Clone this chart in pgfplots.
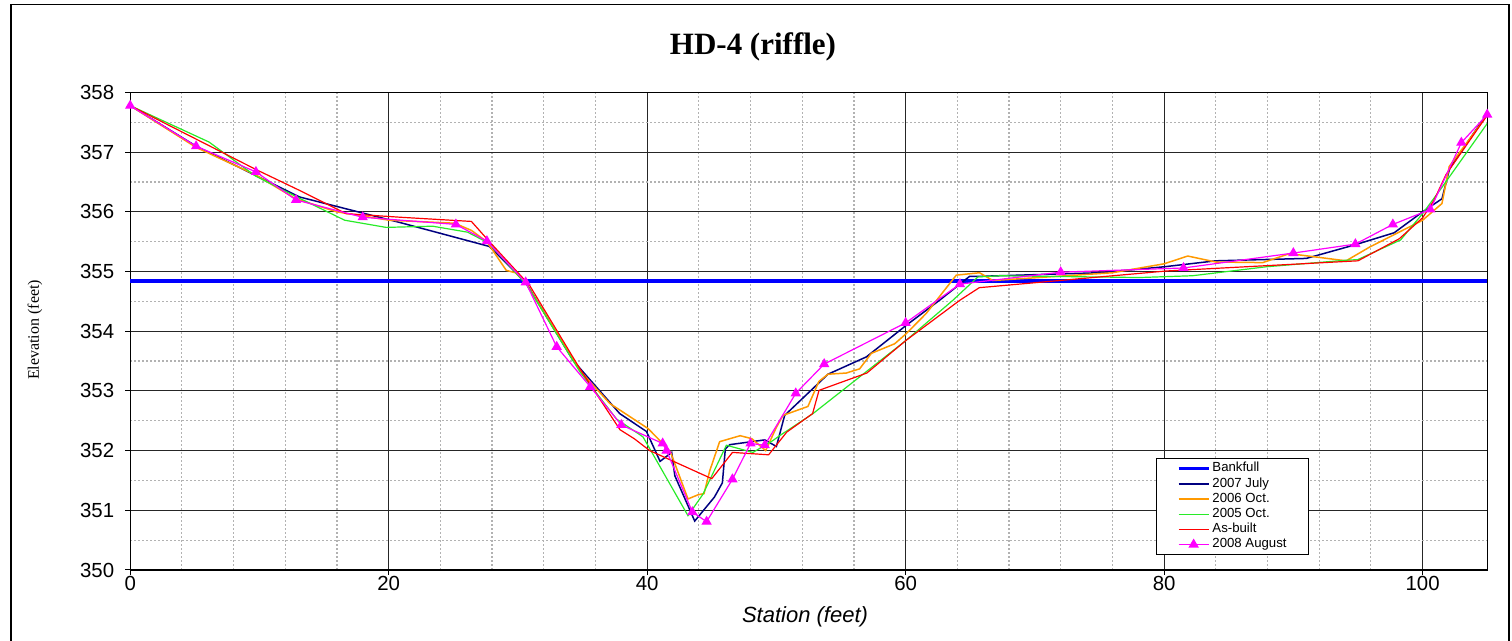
\documentclass[border=0pt]{standalone}
\usepackage{pgfplots}
\pgfplotsset{compat=1.18}
\usepackage{fontspec}
\setmainfont{Liberation Sans}
\newfontfamily\timesfont{Liberation Serif}
\definecolor{navyc}{RGB}{0,0,128}
\definecolor{orangec}{RGB}{255,153,0}
\definecolor{greenc}{RGB}{40,235,40}
\definecolor{redc}{RGB}{255,0,0}
\definecolor{magc}{RGB}{255,0,255}
\definecolor{bluec}{RGB}{0,0,255}
\begin{document}
\begin{tikzpicture}
\useasboundingbox (-65.1pt,-35.5pt) rectangle (690.9pt,285pt);
\draw[line width=0.75pt] (-59.6pt,-60pt) -- (-59.6pt,282.85pt) -- (689.4pt,282.85pt) -- (689.4pt,-60pt);
\begin{axis}[
  at={(0pt,0pt)}, anchor=south west,
  scale only axis, width=678.5pt, height=238.75pt,
  xmin=0, xmax=105, ymin=350, ymax=358,
  xtick={0,20,...,100}, ytick={350,351,...,358},
  minor x tick num=4, minor y tick num=1,
  grid=both,
  major grid style={black!85, line width=0.5pt},
  minor grid style={gray!60, dash pattern=on 1pt off 1pt, line width=0.6pt},
  axis line style={black, line width=0.6pt},
  tick align=outside, major tick length=2.5pt, minor tick length=0pt,
  tick style={black, line width=0.5pt},
  xtick pos=left, ytick pos=left,
  /pgf/number format/assume math mode=true,
  tick label style={font=\fontsize{10.2}{11}\selectfont},
  yticklabel style={xshift=-2pt},
  xticklabel style={yshift=3pt},
  legend cell align=left,
  legend image code/.code={\draw[mark repeat=2,mark phase=2,#1] plot coordinates {(0pt,0pt) (7.5pt,0pt) (15pt,0pt)};},
  legend style={at={(axis cs:79.4,351.88)}, anchor=north west, draw=black, line width=0.5pt,
     font=\fontsize{6.6}{7}\selectfont, inner xsep=10pt, inner ysep=1pt, row sep=-0.6pt,
     nodes={inner sep=1pt}},
]
\addplot[bluec, line width=1.8pt] coordinates {(0,354.84) (105,354.84)};
\addlegendentry{Bankfull}
\addplot[navyc, line width=0.75pt] coordinates {
(0,357.78) (5.1,357.10) (13.1,356.25) (20.9,355.82) (27.8,355.42) (30.6,354.82)
(34.27,353.51) (37.88,352.62) (39.95,352.32) (41.0,351.82) (41.9,351.97) (42.14,351.58)
(43.68,350.82) (45.2,351.22) (45.82,351.46) (46.05,352.03) (46.4,352.10) (49.1,352.18)
(50.0,352.07) (50.64,352.59) (53.99,353.28) (56.96,353.57) (60.05,354.10) (62.63,354.52)
(64.95,354.92) (65.72,354.92) (75.0,354.98) (80,355.08) (84.0,355.18) (91.0,355.22)
(94.8,355.45) (97.8,355.65) (100,356.0) (101.5,356.22) (102.1,356.73) (105,357.65)};
\addlegendentry{2007 July}
\addplot[orangec, line width=0.75pt] coordinates {
(0,357.78) (5.1,357.08) (9.7,356.62) (12.8,356.22) (16,356.0) (20.05,355.86)
(25.1,355.81) (26.4,355.69) (27.6,355.50) (29.1,355.02) (29.8,354.98) (30.6,354.81)
(34.8,353.34) (37.11,352.79) (40.07,352.37) (40.84,352.20) (41.8,351.98) (43.16,351.19)
(43.94,351.26) (44.4,351.28) (44.84,351.66) (45.61,352.15) (47.2,352.25) (48.1,352.20)
(49.17,352.0) (50.0,352.39) (50.51,352.59) (52.44,352.74) (53.29,353.16) (53.99,353.28)
(55.41,353.30) (56.44,353.37) (57.35,353.63) (59.15,353.79) (60.05,353.96) (61.6,354.30)
(63.92,354.94) (65.72,354.98) (66.75,354.85) (76.0,354.98) (80,355.13) (81.83,355.26)
(84.0,355.16) (87.63,355.15) (89.7,355.30) (94.08,355.18) (95.9,355.41) (100,355.86)
(101.5,356.14) (102.06,356.76) (105,357.62)};
\addlegendentry{2006 Oct.}
\addplot[greenc, line width=0.6pt] coordinates {
(0,357.78) (6.1,357.17) (9.7,356.60) (12.8,356.26) (16.6,355.86) (19.8,355.74)
(23.4,355.76) (26.1,355.66) (27.8,355.47) (30.7,354.77) (34.8,353.32) (37.63,352.53)
(39.68,352.23) (43.16,350.91) (44.32,351.27) (46.13,352.09) (48.19,351.97) (49.74,352.17)
(50.25,352.25) (52.83,352.62) (60.05,353.85) (63.66,354.52) (65.59,354.91) (67.3,354.93)
(78.1,354.90) (82.2,354.93) (87.9,355.08) (94.08,355.19) (94.98,355.20) (98.3,355.53)
(100,355.97) (101.43,356.39) (105,357.48)};
\addlegendentry{2005 Oct.}
\addplot[redc, line width=0.6pt] coordinates {
(0,357.78) (9.73,356.71) (13.1,356.36) (16.7,355.97) (20.9,355.91) (26.4,355.84)
(27.8,355.50) (30.9,354.77) (34.8,353.37) (37.9,352.35) (39.0,352.20) (40.2,352.0)
(45.0,351.53) (46.6,351.97) (49.4,351.93) (50.8,352.31) (52.8,352.62) (53.3,353.01)
(57.0,353.30) (60.05,353.85) (64.2,354.52) (65.7,354.73) (80.2,355.01) (95,355.18)
(98.2,355.55) (100,355.90) (100.9,356.20) (101.8,356.62) (105,357.62)};
\addlegendentry{As-built}
\addplot[magc, line width=0.6pt, mark=triangle*, mark size=2.4pt, mark options={solid, fill=magc, draw=magc}] coordinates {
(0,357.78) (5.1,357.10) (9.73,356.67) (12.83,356.20) (17.99,355.91) (25.2,355.79)
(27.6,355.51) (30.6,354.82) (33.0,353.74) (35.6,353.07) (38.0,352.43) (41.2,352.12)
(41.5,352.00) (43.5,350.97) (44.6,350.81) (46.6,351.52) (48.0,352.12) (49.1,352.09)
(51.5,352.96) (53.7,353.45) (60.0,354.14) (64.2,354.79) (72.0,354.99) (81.5,355.06)
(90.0,355.31) (94.8,355.46) (97.7,355.79) (100.6,356.04) (103.0,357.16) (105.0,357.63)};
\addlegendentry{2008 August}
\end{axis}
\node[font=\timesfont\bfseries\fontsize{15.5}{17}\selectfont] at (311.4pt,261.5pt) {HD-4 (riffle)};
\node[font=\itshape\fontsize{11}{12}\selectfont] at (337.4pt,-23.5pt) {Station (feet)};
\node[font=\timesfont\fontsize{8}{9}\selectfont, rotate=90] at (-47.6pt,120pt) {Elevation (feet)};
\end{tikzpicture}
\end{document}
